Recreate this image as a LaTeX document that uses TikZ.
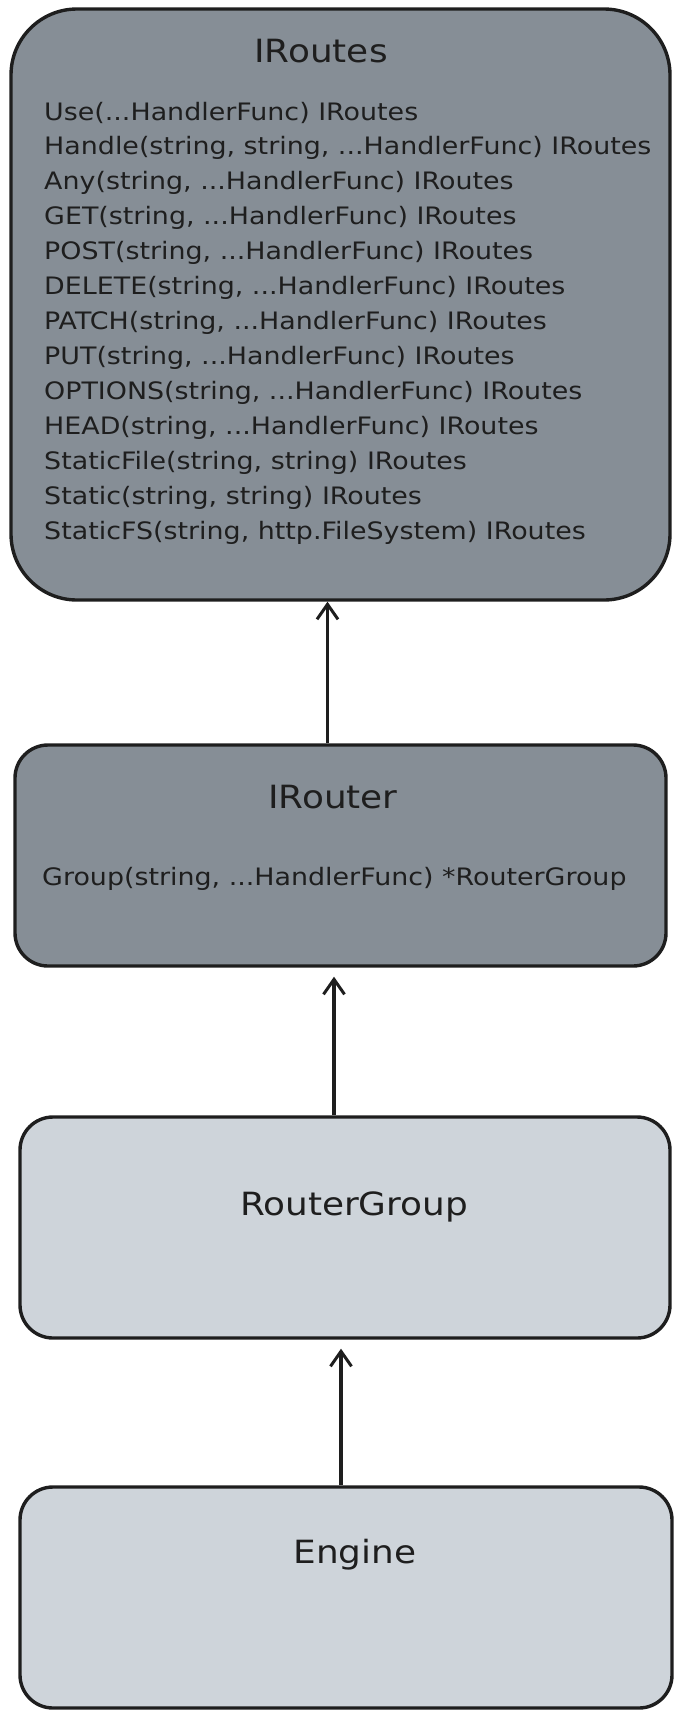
\documentclass[tikz,border=0pt]{standalone}
\usepackage{fontspec}
\setmainfont{DejaVu Sans}[FakeStretch=1.12]
\usepackage{tikz}
\usetikzlibrary{calc,arrows.meta,positioning}
\definecolor{ifaceGray}{RGB}{134,142,150}
\definecolor{structGray}{RGB}{206,212,218}
\definecolor{inkBlack}{RGB}{30,30,30}
\newcommand{\vargs}{...}

\begin{document}
\begin{tikzpicture}[x=1pt,y=-1pt,
  box/.style={draw=inkBlack, line width=3.4pt, inner sep=0pt},
  ifacebox/.style={box, fill=ifaceGray},
  structbox/.style={box, fill=structGray},
  boxtitle/.style={text=inkBlack, font=\fontsize{32}{38}\selectfont},
  member/.style={text=inkBlack, anchor=west, inner sep=0pt, font=\fontsize{24}{29}\selectfont},
  inherit/.style={draw=inkBlack, line width=3.2pt, -{Straight Barb[length=15pt,width=21pt,line width=3pt]}}]
\useasboundingbox (0,0) rectangle (680,1716);
% boxes
\node[ifacebox, rounded corners=66, minimum width=659, minimum height=591] (iroutes) at (340.5,304.5) {};
\node[ifacebox, rounded corners=33, minimum width=651, minimum height=221] (irouter) at (340.5,855.5) {};
\node[structbox, rounded corners=33, minimum width=650, minimum height=221] (routergroup) at (345,1227.5) {};
\node[structbox, rounded corners=33, minimum width=652, minimum height=221] (engine) at (346,1597.5) {};
% titles
\node[boxtitle] (iroutesT) at (321,51) {IRoutes};
\node[boxtitle] (irouterT) at (333,797) {IRouter};
\node[boxtitle] (routergroupT) at (354,1207) {RouterGroup};
\node[boxtitle] (engineT) at (355,1555) {Engine};
% members
\foreach \m [count=\i] in {{Use(\vargs HandlerFunc) IRoutes},
  {Handle(string, string, \vargs HandlerFunc) IRoutes},
  {Any(string, \vargs HandlerFunc) IRoutes},
  {GET(string, \vargs HandlerFunc) IRoutes},
  {POST(string, \vargs HandlerFunc) IRoutes},
  {DELETE(string, \vargs HandlerFunc) IRoutes},
  {PATCH(string, \vargs HandlerFunc) IRoutes},
  {PUT(string, \vargs HandlerFunc) IRoutes},
  {OPTIONS(string, \vargs HandlerFunc) IRoutes},
  {HEAD(string, \vargs HandlerFunc) IRoutes},
  {StaticFile(string, string) IRoutes},
  {Static(string, string) IRoutes},
  {StaticFS(string, http.FileSystem) IRoutes}}
  \node[member] (m\i) at (44,{113+35*(\i-1)}) {\m};
\node[member] (group) at (42,879) {Group(string, \vargs HandlerFunc) *RouterGroup};
% arrows
\draw[inherit] ([xshift=-13]irouter.north) -- ([xshift=-13]iroutes.south);
\draw[inherit, shorten >=9pt] ([xshift=-11]routergroup.north) -- ([xshift=-11]routergroup.north |- irouter.south);
\draw[inherit, shorten >=9pt] ([xshift=-5]engine.north) -- ([xshift=-5]engine.north |- routergroup.south);
\end{tikzpicture}
\end{document}
